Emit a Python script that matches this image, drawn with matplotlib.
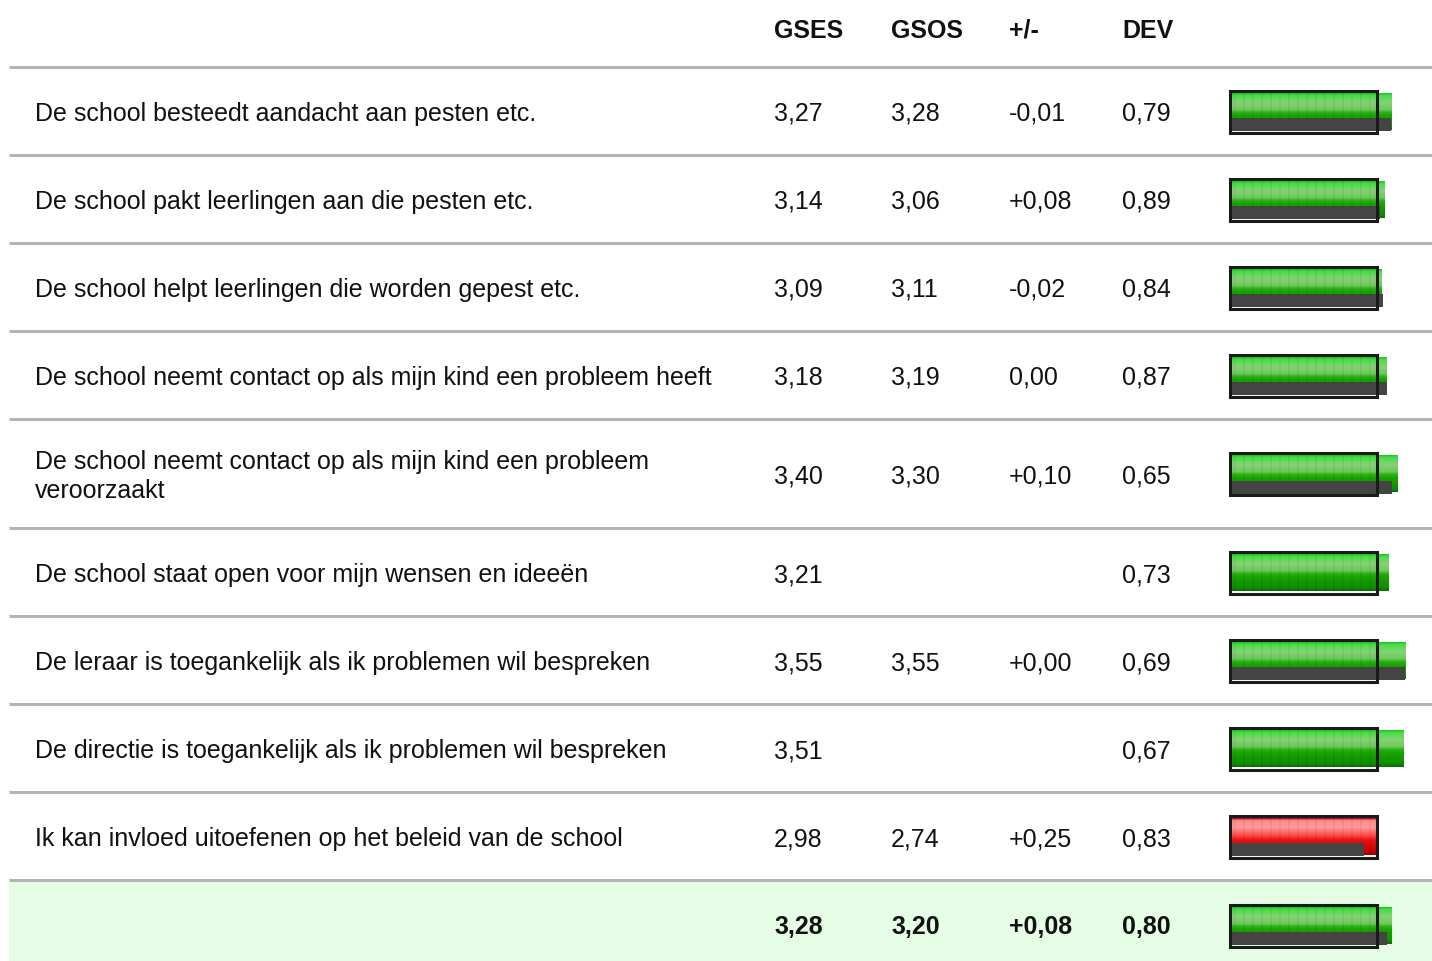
import numpy as np
import matplotlib.pyplot as plt
from matplotlib.patches import Rectangle
from matplotlib.colors import LinearSegmentedColormap

plt.rcParams["font.family"] = ["Liberation Sans", "DejaVu Sans"]

# Data
labels = [
    "De school besteedt aandacht aan pesten etc.",
    "De school pakt leerlingen aan die pesten etc.",
    "De school helpt leerlingen die worden gepest etc.",
    "De school neemt contact op als mijn kind een probleem heeft",
    "De school neemt contact op als mijn kind een probleem\nveroorzaakt",
    "De school staat open voor mijn wensen en ideeën",
    "De leraar is toegankelijk als ik problemen wil bespreken",
    "De directie is toegankelijk als ik problemen wil bespreken",
    "Ik kan invloed uitoefenen op het beleid van de school",
]
gses = [3.27, 3.14, 3.09, 3.18, 3.40, 3.21, 3.55, 3.51, 2.98]
gsos = [3.28, 3.06, 3.11, 3.19, 3.30, None, 3.55, None, 2.74]
diff = ["-0,01", "+0,08", "-0,02", "0,00", "+0,10", "", "+0,00", "", "+0,25"]
dev = [0.79, 0.89, 0.84, 0.87, 0.65, 0.73, 0.69, 0.67, 0.83]
headers = ["GSES", "GSOS", "+/-", "DEV"]
total = {"gses": 3.28, "gsos": 3.20, "diff": "+0,08", "dev": 0.80}
threshold = 3.0

# Layout (pixels)
W, H = 1432, 961
row_edges = [67, 155, 243, 331, 419, 528, 616, 704, 792, 880, 961]
col_x = [774, 891, 1009, 1122]
label_x = 35
bar_x0 = 1224.3   # pixel position of value 0
px_per_unit = 50.9
frame_left = 0.105  # frame / visible bar start, in value units

def fmt(v):
    return "" if v is None else f"{v:.2f}".replace(".", ",")

green = LinearSegmentedColormap.from_list("g", [
    (0.0, "#1fc41f"), (0.06, "#44e044"), (0.25, "#86d276"), (0.45, "#6ec95c"),
    (0.52, "#2db41a"), (0.62, "#18a400"), (0.9, "#109000"), (1.0, "#0a6e0a")])
red = LinearSegmentedColormap.from_list("r", [
    (0.0, "#aa1111"), (0.06, "#ff8a8a"), (0.25, "#ff9a9a"), (0.45, "#ff5050"),
    (0.6, "#ee1010"), (0.9, "#cc0000"), (1.0, "#990000")])
grad = np.linspace(0, 1, 64).reshape(-1, 1)

fig = plt.figure(figsize=(W / 100, H / 100), dpi=100)
ax = fig.add_axes([0, 0, 1, 1])
ax.set_xlim(0, W)
ax.set_ylim(H, 0)
ax.axis("off")

# bar axes in value units
bx = fig.add_axes([bar_x0 / W, 0, (W - bar_x0) / W, 1])
bx.set_xlim(0, (W - bar_x0) / px_per_unit)
bx.set_ylim(H, 0)
bx.axis("off")

# summary background
ax.add_patch(Rectangle((9, row_edges[-2]), W - 9, H - row_edges[-2],
                       facecolor="#e4fde4", edgecolor="none", zorder=0))
for y in row_edges[:-1]:
    ax.plot([9, W], [y, y], color="#b4b4b4", lw=2.2, solid_capstyle="butt", zorder=1)

txt = dict(fontsize=18, color="#111111", va="center")
for x, h in zip(col_x, headers):
    ax.text(x, 31, h, fontweight="bold", **txt)


def draw_bar(c, v, v2):
    cmap = green if v >= threshold else red
    bx.imshow(grad, cmap=cmap, aspect="auto", interpolation="bilinear",
              extent=(frame_left, v, c + 18.5, c - 18.5), zorder=2)
    # faint vertical stripes inside frame
    for s in np.arange(frame_left + 0.1, min(v, threshold), 9 / px_per_unit):
        bx.plot([s, s], [c - 18.5, c + 18.5], color="#000000", alpha=0.06,
                lw=1.2, zorder=3)
    if v2 is not None:
        bx.add_patch(Rectangle((frame_left, c + 6.5), v2 - frame_left, 13,
                               facecolor="#444444", edgecolor="none", zorder=4))
    bx.add_patch(Rectangle((frame_left, c - 21), threshold - frame_left, 42,
                           facecolor="none", edgecolor="#1a1a1a", lw=2.2, zorder=5))


for i, lab in enumerate(labels):
    c = (row_edges[i] + row_edges[i + 1]) / 2
    ax.text(label_x, c + 3, lab, linespacing=1.22, **txt)
    ax.text(col_x[0], c + 3, fmt(gses[i]), **txt)
    ax.text(col_x[1], c + 3, fmt(gsos[i]), **txt)
    ax.text(col_x[2], c + 3, diff[i], **txt)
    ax.text(col_x[3], c + 3, fmt(dev[i]), **txt)
    draw_bar(c + 0.5, gses[i], gsos[i])

c = (row_edges[-2] + row_edges[-1]) / 2
for x, v in zip(col_x, [fmt(total["gses"]), fmt(total["gsos"]), total["diff"], fmt(total["dev"])]):
    ax.text(x, c + 6.5, v, fontweight="bold", **txt)
draw_bar(c + 5, total["gses"], total["gsos"])

fig.savefig("out.png", dpi=100)
